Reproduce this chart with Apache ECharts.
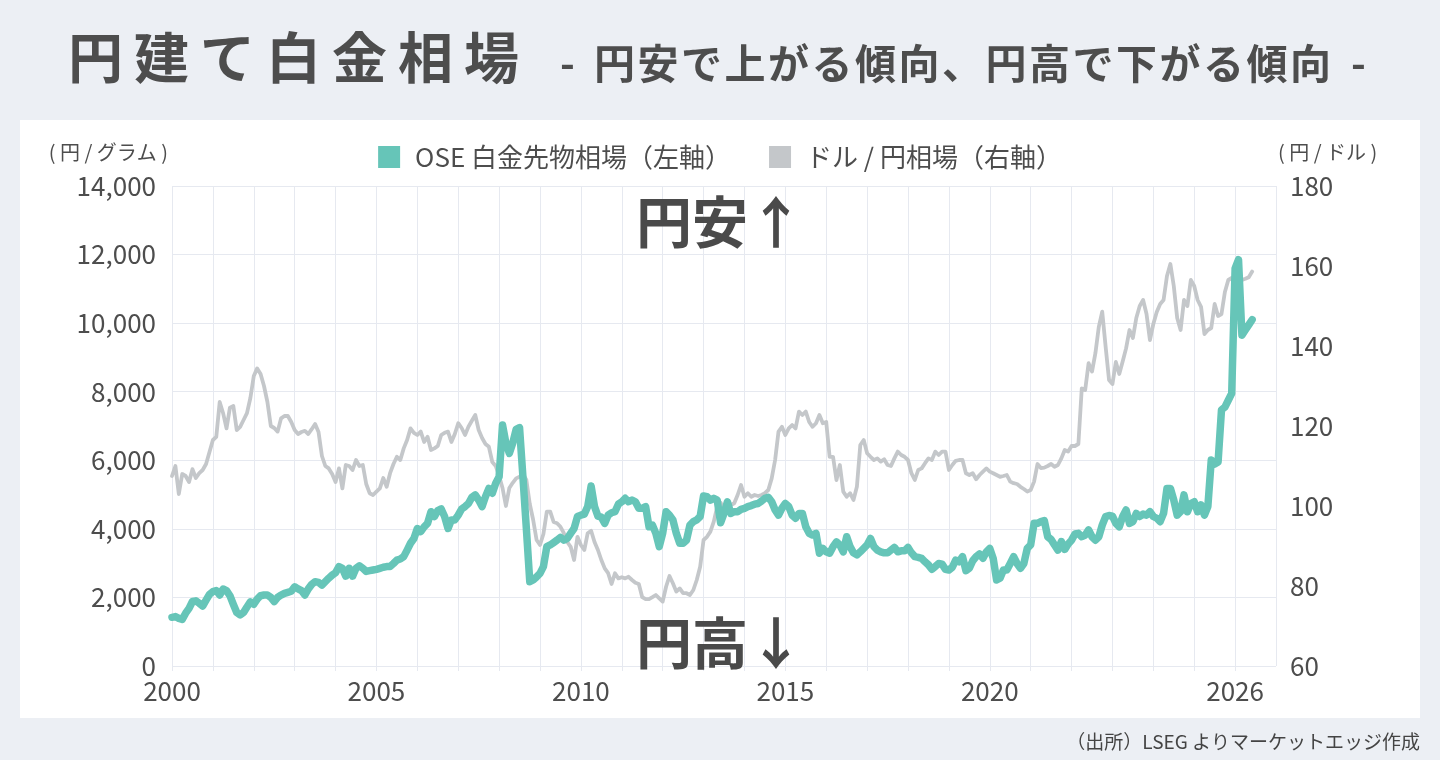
<!DOCTYPE html>
<html>
<head>
<meta charset="utf-8">
<script src="https://cdn.jsdelivr.net/npm/echarts@6/dist/echarts.min.js"></script>
<style>
  html, body { margin: 0; padding: 0; background: #eceff4; }
  #chart { width: 1440px; height: 760px; }
</style>
</head>
<body>
<div id="chart"></div>
<script>
const fontFamily = '"Noto Sans CJK JP", "Noto Sans", sans-serif';
const textColor = '#4d4d4d';
const gridColor = '#e6e9f0';
const platinumColor = '#66c5b8';
const dollarColor = '#c4c7ca';

const startYear = 2000;
const labelYears = [2000, 2005, 2010, 2015, 2020, 2026];
const seriesNames = ['OSE 白金先物相場（左軸）', 'ドル / 円相場（右軸）'];

// OSE platinum futures, yen per gram, monthly from Jan 2000
const platinumYen = [
    1420, 1440, 1390, 1360, 1540, 1680, 1880, 1900, 1830, 1750, 1920, 2090,
    2170, 2200, 2070, 2245, 2200, 2050, 1800, 1560, 1490, 1560, 1720, 1870,
    1800, 1950, 2050, 2070, 2070, 2000, 1880, 2000, 2070, 2120, 2150, 2180,
    2310, 2250, 2200, 2070, 2250, 2380, 2460, 2440, 2360, 2460, 2560, 2650,
    2720, 2900, 2850, 2620, 2850, 2620, 2850, 2920, 2850, 2760, 2780, 2800,
    2820, 2850, 2880, 2900, 2900, 2990, 3090, 3120, 3190, 3380, 3580, 3720,
    4010, 3920, 4060, 4160, 4500, 4360, 4530, 4580, 4360, 4010, 4260, 4260,
    4400, 4580, 4650, 4740, 4920, 4990, 4840, 4650, 4940, 5180, 5040, 5330,
    5520, 7030, 6500, 6200, 6500, 6900, 6950, 5500, 4000, 2460, 2510, 2600,
    2700, 2900, 3480, 3530, 3600, 3670, 3750, 3670, 3720, 3870, 4010, 4360,
    4400, 4430, 4650, 5250, 4650, 4370, 4340, 4160, 4400, 4470, 4500, 4720,
    4790, 4890, 4790, 4840, 4790, 4600, 4600, 4650, 4060, 4110, 3870, 3480,
    3870, 4500, 4400, 4260, 3870, 3580, 3580, 3670, 4110, 4210, 4260, 4360,
    4960, 4940, 4840, 4890, 4840, 4180, 4450, 4790, 4450, 4500, 4500, 4570,
    4600, 4650, 4680, 4720, 4740, 4810, 4890, 4920, 4790, 4550, 4400, 4600,
    4740, 4650, 4400, 4310, 4450, 4450, 4060, 3870, 3820, 3870, 3290, 3430,
    3330, 3290, 3480, 3620, 3530, 3330, 3770, 3480, 3300, 3240, 3330, 3430,
    3530, 3720, 3480, 3380, 3330, 3300, 3300, 3380, 3460, 3330, 3360, 3360,
    3460, 3300, 3190, 3170, 3140, 3040, 2950, 2820, 2900, 2990, 2970, 2820,
    2800, 2880, 3090, 3040, 3190, 2780, 2850, 3070, 3190, 3270, 3140, 3330,
    3430, 3140, 2510, 2560, 2800, 2800, 2990, 3190, 2990, 2850, 2990, 3430,
    3530, 4160, 4160, 4210, 4240, 3770, 3690, 3530, 3380, 3630, 3400, 3560,
    3670, 3850, 3870, 3770, 3820, 3970, 3770, 3670, 3770, 4110, 4360, 4390,
    4370, 4160, 4060, 4360, 4550, 4160, 4210, 4450, 4360, 4430, 4400, 4500,
    4360, 4310, 4210, 4450, 5180, 5180, 4840, 4400, 4500, 4990, 4500, 4740,
    4790, 4500, 4700, 4400, 4650, 6010, 5890, 5950, 7470, 7550, 7750, 7950,
    11600, 11850, 9650, 9800, 9950, 10100
];

// USD/JPY, yen per dollar, monthly from Jan 2000
const usdJpy = [
    107.5, 110, 103, 108, 107.5, 106, 109.2, 107, 108.2, 109, 110.5, 113.5,
    116.5, 117.3, 126, 123.2, 119.4, 124.6, 125, 119, 119.8, 121.5, 123.2, 127,
    132.5, 134.4, 133, 130, 126, 120, 119.5, 118.6, 121.9, 122.5, 122.5, 121,
    119, 118, 118.5, 118.8, 118, 119.2, 120.5, 118.5, 112.5, 110, 109.4, 108,
    106, 109.4, 104.4, 110.25, 110, 109, 111.5, 110, 110.25, 105.5, 103.2, 102.75,
    103.6, 104.4, 107, 104.8, 108.2, 110.5, 112.3, 111.5, 114.4, 116.5, 119.4, 118.3,
    117.75, 118.6, 116, 117.3, 114, 114.4, 115, 117.75, 118.3, 118.6, 116, 118,
    120.7, 119.5, 117.75, 119.8, 121.3, 122.75, 119, 117, 115.5, 114.8, 111, 110,
    107.5, 104.5, 100, 104.5, 105.8, 106.9, 107.3, 108, 106.5, 100.5, 96.5, 91.5,
    90.25, 93, 98.6, 98.6, 96, 95.7, 94.8, 93.2, 91, 89.8, 86.5, 92.3,
    90.25, 89, 93.2, 93.8, 91, 89, 86.5, 84.4, 83.2, 80.5, 83.2, 81.9,
    82.2, 81.9, 82.3, 81.5, 80.8, 80.5, 77.2, 76.7, 76.7, 77.2, 77.75, 76.9,
    76.1, 79.8, 82.5, 80.7, 78.6, 79.4, 78.2, 78.2, 77.75, 79, 81.5, 84.8,
    91.5, 92.3, 93.6, 96.1, 99.8, 100.8, 99.4, 99.8, 100.25, 100.7, 102.75, 105.25,
    102.3, 103.2, 102.3, 102.75, 102.5, 102.75, 103.2, 104, 106.9, 111.5, 118.6, 119.8,
    117.75, 119.4, 120.25, 119.4, 123.6, 122.75, 123.6, 121, 119.8, 120.7, 122.75, 120.7,
    121, 112.3, 112.3, 106.5, 110.25, 103.6, 102.3, 103.2, 101.5, 104.8, 115.25, 116.5,
    113.2, 112.3, 111.5, 111.9, 111.1, 111.7, 110.25, 110, 111.9, 113.6, 112.75, 112.3,
    111.5, 108.2, 106.5, 109, 109.4, 110.7, 111.9, 111.5, 113.6, 112.75, 113.6, 113.6,
    109, 110.25, 111.3, 111.5, 111.5, 108.2, 107.75, 108.2, 106.7, 107.75, 108.6, 109.4,
    108.6, 108.2, 107.75, 107.3, 107.5, 107.75, 106.1, 105.7, 105.5, 104.8, 104.25, 103.6,
    104, 106.1, 110.5, 109.5, 109.6, 110, 110.5, 109.8, 110.25, 111.9, 114, 113.6,
    115, 115, 115.5, 129.4, 129, 135.7, 133.6, 138.2, 144.8, 148.6, 139.8, 131.5,
    130.5, 136, 133, 136.1, 139.4, 144, 142, 147, 150, 151.5, 148, 141.5,
    145.5, 148.5, 150.5, 151.5, 157.5, 160.5, 155, 147, 144, 151.5, 150, 156.5,
    155, 151.5, 149.8, 143, 144, 144.5, 150.5, 147.5, 148, 153.5, 156.5, 157,
    156.5, 157.5, 156.5, 156.8, 157.2, 158.6
];

function toPoints(values) {
    return values.map(function (v, i) {
        return [startYear + i / 12, v];
    });
}

// draws a string one character at a time so the spacing can follow the original
function spacedText(text, x, y, pitch, font) {
    return text.split('').map(function (ch, i) {
        return {
            type: 'text',
            left: x + i * pitch,
            top: y,
            z: 10,
            style: {text: ch, font: font, fill: textColor}
        };
    });
}

const chart = echarts.init(document.getElementById('chart'));

const graphics = [
    {
        type: 'rect',
        z: -100,
        shape: {x: 20, y: 120, width: 1400, height: 598},
        style: {fill: '#ffffff'}
    }
]
    .concat(spacedText('円建て白金相場', 68, 30, 66, 'bold 55px ' + fontFamily))
    .concat(spacedText('-', 560, 43, 0, 'bold 40px ' + fontFamily))
    .concat(spacedText('円安で上がる傾向、円高で下がる傾向', 594, 43, 43.5, 'bold 41px ' + fontFamily))
    .concat(spacedText('-', 1351, 43, 0, 'bold 40px ' + fontFamily))
    .concat([
        {
            type: 'text', x: 720, y: 222, z: 10,
            style: {text: '円安↑', font: 'bold 56px ' + fontFamily, fill: '#4a4a4a', align: 'center', verticalAlign: 'middle'}
        },
        {
            type: 'text', x: 720, y: 643, z: 10,
            style: {text: '円高↓', font: 'bold 56px ' + fontFamily, fill: '#4a4a4a', align: 'center', verticalAlign: 'middle'}
        },
        {
            type: 'text', right: 20, top: 732, z: 10,
            style: {text: '（出所）LSEG よりマーケットエッジ作成', font: '19px ' + fontFamily, fill: '#444'}
        }
    ]);

const option = {
    backgroundColor: '#eceff4',
    animation: false,
    textStyle: {fontFamily: fontFamily},
    graphic: graphics,
    legend: {
        data: seriesNames,
        left: 'center',
        top: 139,
        icon: 'rect',
        itemWidth: 22,
        itemHeight: 22,
        itemGap: 38,
        textStyle: {
            fontSize: 26,
            color: textColor,
            padding: [0, 0, 0, 10]
        }
    },
    grid: {
        left: 172,
        right: 164,
        top: 186,
        bottom: 94
    },
    xAxis: {
        type: 'value',
        min: 2000,
        max: 2027,
        interval: 1,
        axisLine: {show: false},
        axisTick: {
            show: true,
            length: 5,
            lineStyle: {color: gridColor}
        },
        axisLabel: {
            fontSize: 26,
            color: textColor,
            margin: 12,
            showMaxLabel: false,
            formatter: function (value) {
                return labelYears.indexOf(value) >= 0 ? String(value) : '';
            }
        },
        splitLine: {
            show: true,
            lineStyle: {color: gridColor, width: 1}
        }
    },
    yAxis: [
        {
            type: 'value',
            min: 0,
            max: 14000,
            interval: 2000,
            name: '( 円 / グラム )',
            nameLocation: 'end',
            nameGap: 24,
            nameTextStyle: {
                fontSize: 20,
                color: textColor,
                align: 'right',
                padding: [0, 4, 0, 0]
            },
            axisLine: {show: false},
            axisTick: {show: false},
            axisLabel: {
                fontSize: 26,
                color: textColor,
                margin: 16,
                formatter: function (value) {
                    return value.toLocaleString('en-US');
                }
            },
            splitLine: {
                lineStyle: {color: gridColor, width: 1}
            }
        },
        {
            type: 'value',
            min: 60,
            max: 180,
            interval: 20,
            name: '( 円 / ドル )',
            nameLocation: 'end',
            nameGap: 24,
            nameTextStyle: {
                fontSize: 20,
                color: textColor,
                align: 'left',
                padding: [0, 0, 0, 2]
            },
            axisLine: {show: false},
            axisTick: {show: false},
            axisLabel: {
                fontSize: 26,
                color: textColor,
                margin: 14
            },
            splitLine: {show: false}
        }
    ],
    series: [
        {
            name: seriesNames[1],
            type: 'line',
            yAxisIndex: 1,
            data: toPoints(usdJpy),
            showSymbol: false,
            z: 2,
            itemStyle: {color: dollarColor},
            lineStyle: {color: dollarColor, width: 3.8, join: 'round', cap: 'round'}
        },
        {
            name: seriesNames[0],
            type: 'line',
            yAxisIndex: 0,
            data: toPoints(platinumYen),
            showSymbol: false,
            z: 3,
            itemStyle: {color: platinumColor},
            lineStyle: {color: platinumColor, width: 7.5, join: 'round', cap: 'round'}
        }
    ]
};

chart.setOption(option);
</script>
</body>
</html>
